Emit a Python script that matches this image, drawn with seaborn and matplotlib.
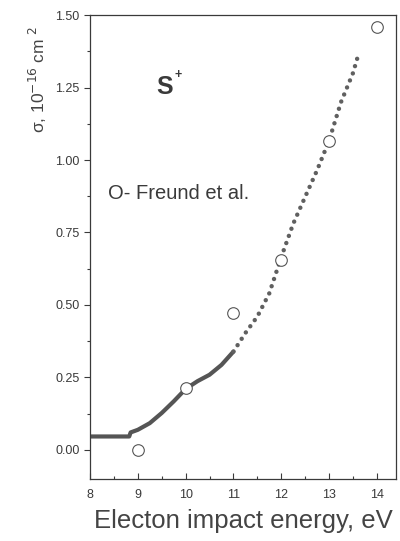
import numpy as np
import matplotlib
matplotlib.use("Agg")
import matplotlib.pyplot as plt
import seaborn as sns
from matplotlib.ticker import MultipleLocator

# Calculated curve (dense part and dotted part)
curve_dense_x = [8.0, 8.82, 8.85, 9.0, 9.25, 9.5, 9.75, 10.0, 10.25, 10.5, 10.75, 11.0]
curve_dense_y = [0.046, 0.046, 0.06, 0.069, 0.092, 0.127, 0.167, 0.21, 0.237, 0.259, 0.293, 0.339]
curve_dot_x = [11.0, 11.25, 11.5, 11.75, 12.0, 12.25, 12.5, 12.75, 13.0, 13.25, 13.5, 13.62]
curve_dot_y = [0.339, 0.403, 0.46, 0.54, 0.665, 0.78, 0.873, 0.965, 1.067, 1.2, 1.3, 1.368]
# Freund et al. experimental points
freund_x = [9, 10, 11, 12, 13, 14]
freund_y = [0.0, 0.214, 0.473, 0.655, 1.067, 1.458]

sns.set_theme(style="ticks")
plt.rcParams['font.family'] = ['Liberation Sans', 'DejaVu Sans']
ink = '#3a3a3a'

fig = plt.figure(figsize=(4.0, 5.41), dpi=100)
ax = fig.add_axes([0.225, 0.115, 0.765, 0.857])

sns.lineplot(x=curve_dense_x, y=curve_dense_y, ax=ax, color='#555555', lw=3.0,
             sort=False, estimator=None)
ax.plot(curve_dot_x, curve_dot_y, color='#606060', lw=3.2,
        linestyle=(0, (0.01, 1.7)), dash_capstyle='round')
sns.scatterplot(x=freund_x, y=freund_y, ax=ax, marker='o', s=70,
                facecolor='white', edgecolor='#555555', linewidth=0.8, zorder=5)

ax.set_xlim(8, 14.4)
ax.set_ylim(-0.1, 1.5)
ax.xaxis.set_major_locator(MultipleLocator(1))
ax.xaxis.set_minor_locator(MultipleLocator(0.5))
ax.yaxis.set_major_locator(MultipleLocator(0.25))
ax.yaxis.set_minor_locator(MultipleLocator(0.125))
ax.yaxis.set_major_formatter(matplotlib.ticker.FormatStrFormatter('%.2f'))
ax.tick_params(axis='x', which='both', direction='in', colors=ink, labelsize=9, pad=7)
ax.tick_params(axis='y', which='both', direction='out', colors=ink, labelsize=9)
ax.tick_params(which='major', length=4, width=0.8)
ax.tick_params(which='minor', length=2.5, width=0.8)
for s in ax.spines.values():
    s.set_color(ink)
    s.set_linewidth(0.9)

ax.set_xlabel('Electon impact energy, eV', fontsize=18.5, color='#444444', labelpad=6)
fig.text(0.095, 0.852, r'σ, 10$^{-16}$ cm$^{\ 2}$', rotation=90, fontsize=12.5,
         color='#444444', ha='center', va='center')

ax.text(9.55, 1.253, 'S', fontsize=18, fontweight='bold', color=ink, ha='center', va='center')
ax.text(9.85, 1.295, '+', fontsize=9, fontweight='bold', color=ink, ha='center', va='center')
ax.text(8.38, 0.884, 'O- Freund et al.', fontsize=14.5, color=ink, ha='left', va='center')

fig.savefig('out.png', dpi=100)
